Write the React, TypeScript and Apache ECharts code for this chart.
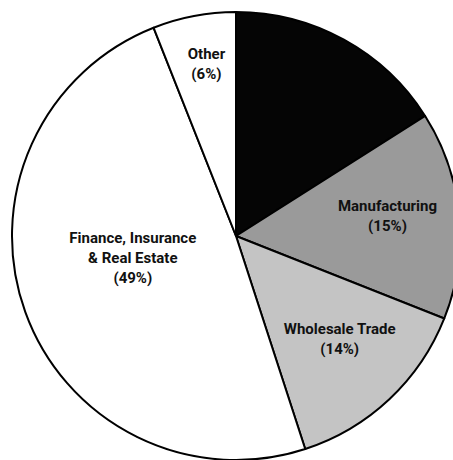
import React, { useEffect, useRef } from "react";
import * as echarts from "echarts";

const categories = [
  "Unlabeled",
  "Manufacturing",
  "Wholesale Trade",
  "Finance, Insurance\n& Real Estate",
  "Other",
];
const shares = [16, 15, 14, 49, 6];
const showLabel = [false, true, true, true, true];
const sliceColors = ["#050505", "#9a9a9a", "#c4c4c4", "#ffffff", "#ffffff"];
// label nudges (dx, dy) from the default inside position
const labelNudge: [number, number][] = [
  [0, 0],
  [37, -9],
  [25, 19],
  [5, -17],
  [-8, -59],
];

export default function App() {
  const ref = useRef<HTMLDivElement>(null);
  useEffect(() => {
    if (!ref.current) return;
    const chart = echarts.init(ref.current, undefined, { renderer: "svg" });
    const font = "Roboto, 'Liberation Sans', sans-serif";
    chart.setOption({
      animation: false,
      backgroundColor: "#ffffff",
      series: [
        {
          type: "pie",
          center: [236, 236],
          radius: [0, 224],
          startAngle: 90,
          clockwise: true,
          silent: true,
          avoidLabelOverlap: false,
          emphasis: { disabled: true },
          itemStyle: { borderColor: "#000", borderWidth: 2 },
          label: {
            show: true,
            position: "inside",
            color: "#111",
            fontFamily: font,
            fontSize: 15,
            fontWeight: "bold",
            lineHeight: 20,
            align: "center",
            formatter: (p: any) => `${p.name}\n(${p.value}%)`,
          },
          labelLine: { show: false },
          labelLayout: (p: any) => ({
            dx: labelNudge[p.dataIndex][0],
            dy: labelNudge[p.dataIndex][1],
          }),
          data: categories.map((name, i) => ({
            name,
            value: shares[i],
            itemStyle: { color: sliceColors[i] },
            label: { show: showLabel[i] },
          })),
        },
      ],
    });
    return () => chart.dispose();
  }, []);
  return (
    <div
      ref={ref}
      style={{ position: "fixed", left: 0, top: 0, width: 453, height: 460, background: "#fff" }}
    />
  );
}
